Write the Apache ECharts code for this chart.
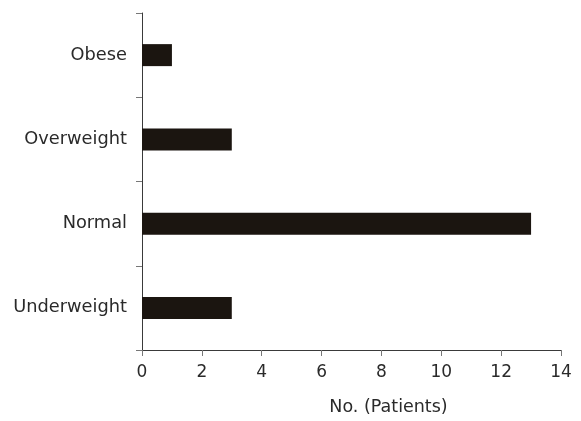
<!DOCTYPE html>
<html>
<head>
<meta charset="utf-8">
<script src="https://cdn.jsdelivr.net/npm/echarts@6/dist/echarts.min.js"></script>
<style>html,body{margin:0;padding:0;background:#fff;}#c{width:581px;height:421px;}</style>
</head>
<body>
<div id="c"></div>
<script>
const categories = ['Underweight', 'Normal', 'Overweight', 'Obese'];
const patients = [3, 13, 3, 1];
const xTicks = [0, 2, 4, 6, 8, 10, 12, 14];
const xName = 'No. (Patients)';

const chart = echarts.init(document.getElementById('c'), null, {renderer: 'canvas'});
const font = 'DejaVu Sans';
chart.setOption({
  animation: false,
  backgroundColor: '#ffffff',
  grid: {left: 142, right: 20, top: 13, bottom: 68, containLabel: false},
  xAxis: {
    type: 'value',
    min: xTicks[0],
    max: xTicks[xTicks.length - 1],
    interval: 2,
    splitLine: {show: false},
    axisLine: {show: true, lineStyle: {color: '#3a3a3a', width: 1}},
    axisTick: {show: true, length: 6, lineStyle: {color: '#777'}},
    axisLabel: {margin: 14, color: '#2a2a2a', fontFamily: font, fontSize: 17},
    name: xName,
    nameLocation: 'middle',
    nameGap: 48,
    nameTextStyle: {color: '#2a2a2a', fontFamily: font, fontSize: 17.5, padding: [0, 0, 0, 74]}
  },
  yAxis: {
    type: 'category',
    data: categories,
    axisLine: {show: true, lineStyle: {color: '#3a3a3a', width: 1}},
    axisTick: {show: true, length: 6, alignWithLabel: false, lineStyle: {color: '#777'}},
    axisLabel: {margin: 15, color: '#2a2a2a', fontFamily: font, fontSize: 17.8},
    splitLine: {show: false}
  },
  series: [{
    type: 'bar',
    data: patients,
    barWidth: 22,
    itemStyle: {color: '#1b1510'}
  }]
});
</script>
</body>
</html>
